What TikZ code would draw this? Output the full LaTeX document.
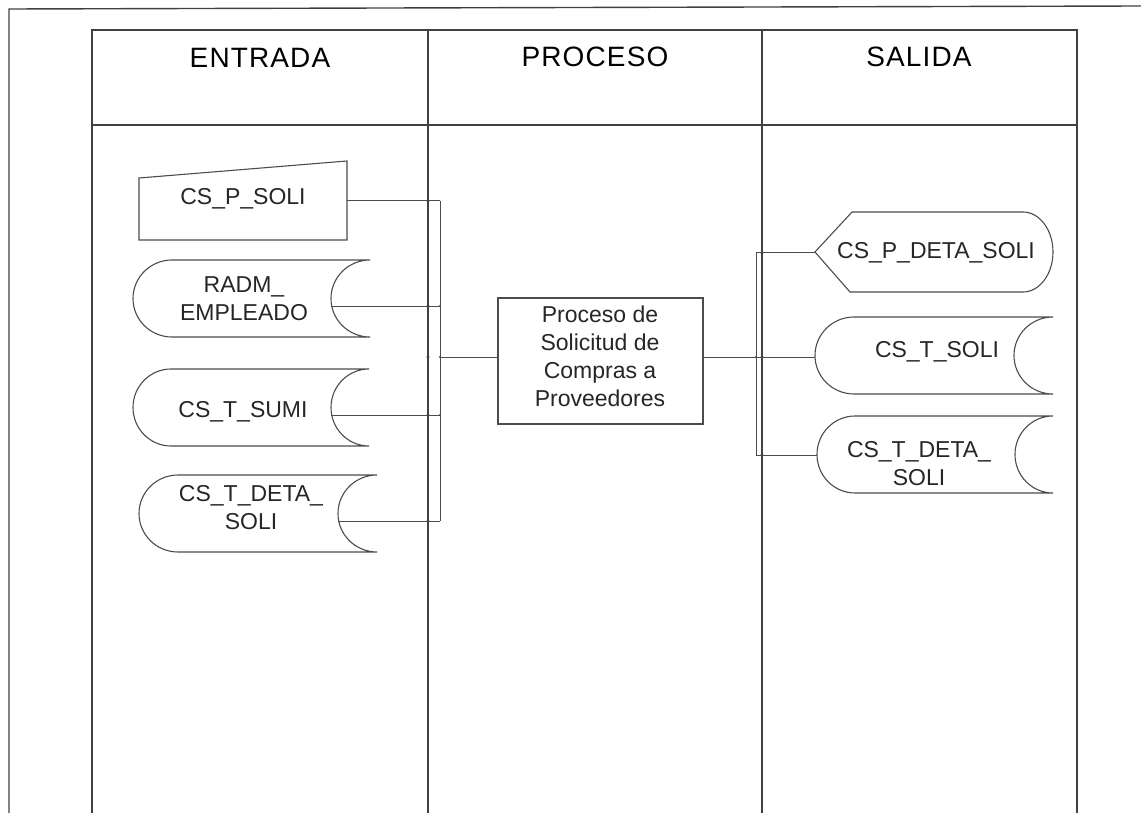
\documentclass[tikz,border=0pt]{standalone}
\usepackage{fontspec}
\setmainfont{Liberation Sans}
\newfontfamily\hdrfont[LetterSpace=4]{Liberation Sans}
\newcommand\sdshape[5]{% L R T B d : stored-data shape
  \draw[shp] ({#1+#5},#3) -- (#2,#3)
    .. controls ({#2-0.5523*#5},#3) and ({#2-#5},{(#3+#4)/2-0.5523*(#4-#3)/2}) .. ({#2-#5},{(#3+#4)/2})
    .. controls ({#2-#5},{(#3+#4)/2+0.5523*(#4-#3)/2}) and ({#2-0.5523*#5},#4) .. (#2,#4)
    -- ({#1+#5},#4)
    .. controls ({#1+#5-0.5523*#5},#4) and (#1,{(#3+#4)/2+0.5523*(#4-#3)/2}) .. (#1,{(#3+#4)/2})
    .. controls (#1,{(#3+#4)/2-0.5523*(#4-#3)/2}) and ({#1+#5-0.5523*#5},#3) .. cycle;
}
\begin{document}
\begin{tikzpicture}[x=1pt,y=-1pt,
  tbl/.style={draw=black!75,line width=1.4pt},
  shp/.style={draw=black!70,line width=1.1pt},
  conn/.style={draw=black!70,line width=1pt},
  lbl/.style={text=black!85,font=\fontsize{23}{28}\selectfont,align=center,inner sep=0pt},
  hdr/.style={text=black,font=\hdrfont\fontsize{28}{34}\selectfont,inner sep=0pt},
  jdot/.style={fill=black!75,draw=none,circle,inner sep=0pt,minimum size=3.2pt},
  tdot/.style={fill=black!70,draw=none,circle,inner sep=0pt,minimum size=2.4pt}]
\useasboundingbox (0,0) rectangle (1141,813);
% outer frame
\draw[tbl] (9,813) -- (9,9) -- (1141,6);
% table
\draw[tbl] (92,813) -- (92,30) -- (1077,30) -- (1077,813);
\draw[tbl] (92,125) -- (1077,125);
\draw[tbl] (428,30) -- (428,813);
\draw[tbl] (762,30) -- (762,813);
% headers
\node[hdr] (hEnt) at (260,58) {ENTRADA};
\node[hdr] (hPro) at (595,57) {PROCESO};
\node[hdr] (hSal) at (919,57) {SALIDA};
% input shapes
\draw[shp] (139,178) -- (347,161) -- (347,240) -- (139,240) -- cycle;
\sdshape{133}{370}{260}{337}{39}
\sdshape{133}{369}{369}{446}{38}
\sdshape{139}{377}{475}{552}{39}
% output shapes
\draw[shp] (815,252) -- (852,212) -- (1023,212) .. controls (1039.6,212) and (1053,230) .. (1053,252)
  .. controls (1053,274) and (1039.6,292) .. (1023,292) -- (850,292) -- cycle;
\sdshape{815}{1053}{317}{394}{39}
\sdshape{817}{1053}{416}{493}{38}
% process box
\node[draw=black!70,line width=1.1pt,minimum width=205pt,minimum height=126pt,inner sep=0pt] (proc) at (600.5,361) {};
% labels
\node[lbl] (tPSoli) at (243,199) {CS\_P\_SOLI};
\node[lbl] (tRadm) at (244,298.5) {RADM\_\\EMPLEADO};
\node[lbl] (tSumi) at (243,412) {CS\_T\_SUMI};
\node[lbl] (tDetaL) at (251,507.5) {CS\_T\_DETA\_\\SOLI};
\node[lbl] (tProc) at (600,356) {Proceso de\\Solicitud de\\Compras a\\Proveedores};
\node[lbl] (tPDeta) at (936,253) {CS\_P\_DETA\_SOLI};
\node[lbl] (tTSoli) at (937,352) {CS\_T\_SOLI};
\node[lbl] (tDetaR) at (919,464) {CS\_T\_DETA\_\\SOLI};
% connection points
\coordinate (pSoliE) at (347,201);
\coordinate (radmE) at (332,306);
\coordinate (sumiE) at (331,415);
\coordinate (detaLE) at (338,521);
\coordinate (busL1) at (440,201);
\coordinate (busL2) at (440,306);
\coordinate (busL3) at (440,415);
\coordinate (busL4) at (440,521);
\coordinate (busLm) at (440,357);
\coordinate (pDetaW) at (815,253);
\coordinate (tSoliW) at (815,357);
\coordinate (detaRW) at (817,455);
\coordinate (busR1) at (756,253);
\coordinate (busR3) at (756,455);
% connectors
\draw[conn] (pSoliE) -- (busL1);
\draw[conn] (radmE) -- (busL2);
\draw[conn] (sumiE) -- (busL3);
\draw[conn] (detaLE) -- (busL4);
\draw[conn] (busL1) -- (busL4);
\draw[conn] (busLm) -- (busLm -| proc.west);
\draw[conn] (busLm -| proc.east) -- (tSoliW);
\draw[conn] (busR1) -- (busR3);
\draw[conn] (busR1) -- (pDetaW);
\draw[conn] (busR3) -- (detaRW);
% junction dots
\foreach \y in {201,306,357,415,521} \node[jdot] at (428,\y) {};
\foreach \y in {253,357,455} \node[jdot] at (762,\y) {};
\foreach \y in {306,357,415} \node[tdot] at (440,\y) {};
\node[tdot] at (756,357) {};
\end{tikzpicture}
\end{document}
